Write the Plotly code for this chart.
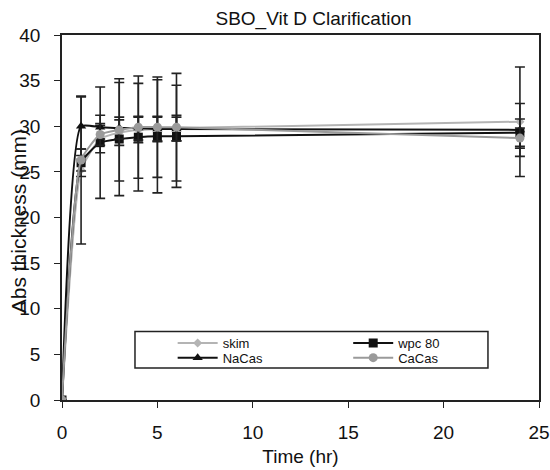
import plotly.graph_objects as go

time_hr = [0, 1, 2, 3, 4, 5, 6, 24]

skim = [0, 25.2, 28.6, 29.3, 29.6, 29.7, 29.8, 30.5]
skim_err = [0, 8.1, 1.5, 1.4, 1.4, 1.4, 1.4, 6.0]

wpc80 = [0, 26.0, 28.2, 28.6, 28.8, 28.9, 28.9, 29.3]
wpc80_err = [0, 1.5, 6.1, 6.2, 5.9, 6.2, 5.6, 1.5]

nacas = [0, 30.0, 29.9, 29.8, 29.8, 29.7, 29.7, 29.6]
nacas_err = [0, 3.2, 1.3, 1.2, 1.3, 1.3, 1.3, 2.9]

cacas = [0, 26.3, 29.1, 29.6, 29.9, 29.9, 29.9, 28.7]
cacas_err = [0, 1.2, 1.2, 5.6, 5.6, 5.5, 5.9, 1.1]

series = [
    ("skim", skim, skim_err, "#b4b4b4", "diamond", 7, "legend"),
    ("wpc 80", wpc80, wpc80_err, "#111111", "square", 9, "legend2"),
    ("NaCas", nacas, nacas_err, "#111111", "triangle-up", 9, "legend3"),
    ("CaCas", cacas, cacas_err, "#9a9a9a", "circle", 9, "legend4"),
]

fig = go.Figure()
for name, vals, errs, col, sym, size, leg in series:
    fig.add_trace(go.Scatter(
        x=time_hr, y=vals, name=name, mode="lines+markers", legend=leg,
        line=dict(color=col, width=2, shape="spline", smoothing=0.5),
        marker=dict(symbol=sym, size=size, color=col),
        error_y=dict(type="data", array=errs, visible=True,
                     color="#222222", thickness=1.6, width=5),
    ))

leg_common = dict(orientation="v", yanchor="top", xanchor="left",
                  bgcolor="rgba(0,0,0,0)", borderwidth=0,
                  font=dict(size=13), tracegroupgap=0, itemwidth=40)

row1, row2 = 0.197, 0.157
col1, col2 = 0.232, 0.600

fig.update_layout(
    width=550, height=470,
    margin=dict(l=62, r=11, t=35, b=70),
    paper_bgcolor="white", plot_bgcolor="white",
    font=dict(family="Liberation Sans, Arial", color="#111111"),
    title=dict(text="SBO_Vit D Clarification", x=0.57, xanchor="center",
               yref="container", y=0.96, yanchor="middle", font=dict(size=19)),
    showlegend=True,
    legend=dict(x=col1, y=row1, **leg_common),
    legend2=dict(x=col2, y=row1, **leg_common),
    legend3=dict(x=col1, y=row2, **leg_common),
    legend4=dict(x=col2, y=row2, **leg_common),
    shapes=[dict(type="rect", xref="paper", yref="paper",
                 x0=0.153, x1=0.893, y0=0.088, y1=0.188,
                 line=dict(color="#222222", width=1.5), fillcolor="white", layer="below")],
    xaxis=dict(range=[0, 25], tickvals=[0, 5, 10, 15, 20, 25], automargin=False,
               showline=True, linecolor="#222222", linewidth=1.5, mirror=True,
               ticks="outside", ticklen=6, tickcolor="#222222", showgrid=False,
               zeroline=False, tickfont=dict(size=19), ticklabelstandoff=8,
               title=dict(text="Time (hr)", font=dict(size=19), standoff=8)),
    yaxis=dict(range=[0, 40], tickvals=[0, 5, 10, 15, 20, 25, 30, 35, 40], automargin=False,
               showline=True, linecolor="#222222", linewidth=1.5, mirror=True,
               ticks="outside", ticklen=6, tickcolor="#222222", showgrid=False,
               zeroline=False, tickfont=dict(size=19), ticklabelstandoff=10),
    annotations=[dict(text="Abs thickness (mm)", textangle=-90, xref="paper", yref="paper",
                      x=-0.092, y=0.49, xanchor="center", yanchor="middle",
                      showarrow=False, font=dict(size=21))],
)

fig.write_html("out.html", config={"displayModeBar": False},
               post_script="document.body.style.margin='0';")
